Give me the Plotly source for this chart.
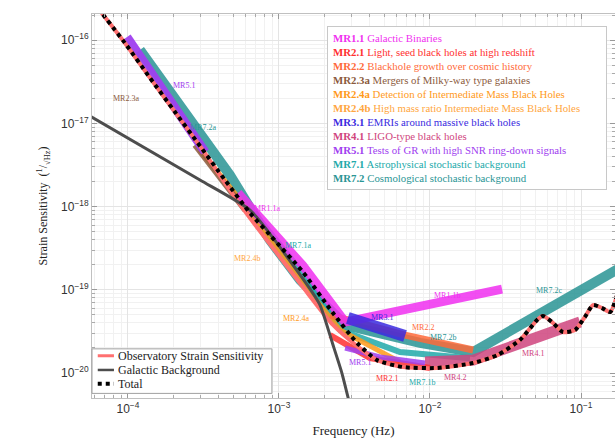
import numpy as np
import plotly.graph_objects as go

# ---------------- data (frequency in Hz, strain in 1/sqrt(Hz)) ----------------
total_f = [6.32e-5, 9.55e-5, 1.40e-4, 2.05e-4, 3.00e-4, 4.39e-4, 6.43e-4, 8.71e-4, 1.44e-3,
           2.28e-3, 3.29e-3, 4.46e-3, 6.62e-3, 1.11e-2, 1.93e-2, 2.78e-2, 3.94e-2, 5.12e-2,
           5.60e-2, 6.43e-2, 7.60e-2, 9.12e-2, 0.106, 0.120, 0.138, 0.156, 0.181]
total_h = [2.44e-16, 9.25e-17, 3.52e-17, 1.37e-17, 5.35e-18, 2.09e-18, 8.38e-19, 4.56e-19, 1.64e-19,
           5.26e-20, 2.30e-20, 1.43e-20, 1.18e-20, 1.15e-20, 1.32e-20, 1.64e-20, 2.49e-20, 4.34e-20,
           4.84e-20, 4.10e-20, 3.11e-20, 3.29e-20, 4.71e-20, 6.56e-20, 6.04e-20, 5.41e-20, 1.14e-19]

obs_f = [6.32e-5, 9.55e-5, 1.40e-4, 2.05e-4, 3.00e-4, 4.39e-4, 6.43e-4, 8.71e-4, 1.44e-3,
         2.28e-3, 3.29e-3, 4.46e-3, 6.62e-3, 1.11e-2, 1.93e-2, 2.78e-2, 3.94e-2, 5.12e-2,
         5.60e-2, 6.43e-2, 7.60e-2, 9.12e-2, 0.106, 0.120, 0.138, 0.156, 0.181]
obs_h = [2.44e-16, 9.25e-17, 3.52e-17, 1.37e-17, 5.35e-18, 1.92e-18, 7.29e-19, 3.55e-19, 1.08e-19,
         3.78e-20, 2.11e-20, 1.43e-20, 1.18e-20, 1.15e-20, 1.32e-20, 1.64e-20, 2.49e-20, 4.34e-20,
         4.84e-20, 4.10e-20, 3.11e-20, 3.29e-20, 4.71e-20, 6.56e-20, 6.04e-20, 5.41e-20, 1.14e-19]

galactic_f = [5.60e-5, 3.00e-4, 6.43e-4, 1.38e-3, 1.87e-3, 2.28e-3, 2.61e-3, 2.95e-3]
galactic_h = [1.23e-17, 2.09e-18, 9.10e-19, 1.51e-19, 6.56e-20, 2.17e-20, 1.00e-20, 4.12e-21]

# mission-requirement bands
mr72_f = [1.20e-4, 4.73e-4, 8.71e-4, 1.38e-3, 2.74e-3, 8.59e-3, 1.93e-2, 0.181]
mr72_h = [7.62e-17, 2.40e-18, 3.97e-19, 1.31e-19, 3.78e-20, 2.30e-20, 1.79e-20, 1.83e-19]

mr71_f = [7.48e-4, 1.38e-3, 2.54e-3, 6.33e-3, 1.84e-2]
mr71_h = [6.90e-19, 1.73e-19, 3.29e-20, 1.79e-20, 1.51e-20]

mr24_f = [3.00e-4, 6.43e-4, 1.38e-3, 2.54e-3, 6.33e-3]
mr24_h = [4.79e-18, 8.61e-19, 1.31e-19, 3.29e-20, 1.36e-20]

mr23_f = [2.78e-4, 5.96e-4]
mr23_h = [5.50e-18, 9.10e-19]

mr22_f = [2.18e-3, 6.83e-3, 1.93e-2]
mr22_h = [4.98e-20, 2.86e-20, 1.89e-20]

mr11_f = [5.35e-4, 1.44e-3, 2.74e-3, 3.00e-2]
mr11_h = [1.46e-18, 1.95e-19, 4.10e-20, 1.02e-19]

mr31_f = [2.86e-3, 6.83e-3]
mr31_h = [4.58e-20, 2.79e-20]

mr41_f = [9.27e-3, 1.93e-2, 9.85e-2]
mr41_h = [1.36e-20, 1.43e-20, 4.10e-20]

mr21_f = [2.18e-3, 4.01e-3, 1.00e-2]
mr21_h = [2.86e-20, 1.51e-20, 1.15e-20]

mr51a_f = [9.84e-5, 1.79e-4, 3.24e-4]
mr51a_h = [1.09e-16, 2.19e-17, 4.53e-18]
mr51b_f = [2.74e-3, 4.67e-3, 9.27e-3]
mr51b_h = [2.00e-20, 1.56e-20, 1.32e-20]

# band labels: text, log10 f, log10 h
band_labels = [
    ("MR5.1", -3.629, -16.539), ("MR2.3a", -4.013, -16.695), ("MR7.2a", -3.503, -17.043),
    ("MR1.1a", -3.080, -18.017), ("MR7.1a", -2.874, -18.462), ("MR2.4b", -3.212, -18.618),
    ("MR2.4a", -2.887, -19.339), ("MR3.1", -2.318, -19.327), ("MR2.2", -2.046, -19.447),
    ("MR7.2b", -1.914, -19.567), ("MR1.1b", -1.887, -19.063), ("MR7.2c", -1.212, -19.002),
    ("MR4.1", -1.318, -19.760), ("MR4.2", -1.834, -20.048), ("MR7.1b", -2.053, -20.108),
    ("MR2.1", -2.285, -20.060), ("MR5.1", -2.464, -19.868),
]

legend_items = [
    ("MR1.1", "Galactic Binaries"),
    ("MR2.1", "Light, seed black holes at high redshift"),
    ("MR2.2", "Blackhole growth over cosmic history"),
    ("MR2.3a", "Mergers of Milky-way type galaxies"),
    ("MR2.4a", "Detection of Intermediate Mass Black Holes"),
    ("MR2.4b", "High mass ratio Intermediate Mass Black Holes"),
    ("MR3.1", "EMRIs around massive black holes"),
    ("MR4.1", "LIGO-type black holes"),
    ("MR5.1", "Tests of GR with high SNR ring-down signals"),
    ("MR7.1", "Astrophysical stochastic background"),
    ("MR7.2", "Cosmological stochastic background"),
]

main_names = ["Observatory Strain Sensitivity", "Galactic Background", "Total"]

colors = {
    "MR1.1": "#F030F0", "MR2.1": "#FF3030", "MR2.2": "#FF6A3A", "MR2.3a": "#8B5A3C",
    "MR2.4a": "#FF9A1A", "MR2.4b": "#FFA640", "MR3.1": "#3A2BE0", "MR4.1": "#D0457E",
    "MR4.2": "#D0457E", "MR5.1": "#A040F0", "MR7.1": "#22AAAA", "MR7.2": "#2A9595",
}
OBS_C, GAL_C, TOT_C = "#FF7070", "#4D4D4D", "black"

def label_color(t):
    if t in colors:
        return colors[t]
    return colors[t[:5]]

SERIF = "Liberation Serif, DejaVu Serif, serif"

fig = go.Figure()

def band(f, h, color, width, opacity=0.85):
    fig.add_trace(go.Scatter(x=f, y=h, mode="lines", showlegend=False, opacity=opacity,
                             line=dict(color=color, width=width), hoverinfo="skip"))

band(mr72_f, mr72_h, colors["MR7.2"], 10)
band(mr71_f, mr71_h, colors["MR7.1"], 6)
band(mr24_f, mr24_h, colors["MR2.4a"], 5)
band(mr23_f, mr23_h, colors["MR2.3a"], 6)
band(mr41_f, mr41_h, colors["MR4.1"], 11)
band(mr22_f, mr22_h, colors["MR2.2"], 7)
band(mr11_f, mr11_h, colors["MR1.1"], 9)
band(mr31_f, mr31_h, colors["MR3.1"], 12)
band(mr21_f, mr21_h, colors["MR2.1"], 6)
band(mr51a_f, mr51a_h, colors["MR5.1"], 9, 0.95)
band(mr51b_f, mr51b_h, colors["MR5.1"], 5)

fig.add_trace(go.Scatter(x=obs_f, y=obs_h, mode="lines", name=main_names[0], showlegend=False,
                         line=dict(color=OBS_C, width=4, shape="spline", smoothing=0.6)))
fig.add_trace(go.Scatter(x=galactic_f, y=galactic_h, mode="lines", name=main_names[1], showlegend=False,
                         line=dict(color=GAL_C, width=3, shape="spline", smoothing=0.5)))
fig.add_trace(go.Scatter(x=total_f, y=total_h, mode="lines", name=main_names[2], showlegend=False,
                         line=dict(color=TOT_C, width=4, dash="dot", shape="spline", smoothing=0.6)))

annotations = []
for t, lx, ly in band_labels:
    annotations.append(dict(x=lx, y=ly, xref="x", yref="y", text=t, showarrow=False,
                            font=dict(family=SERIF, size=8, color=label_color(t))))

lines = []
for k, desc in legend_items:
    c = colors[k]
    lines.append(f"<span style='color:{c}'><b>{k}</b> {desc}</span>")
annotations.append(dict(x=0.449, y=0.968, xref="paper", yref="paper", xanchor="left", yanchor="top",
                        text="<br>".join(lines), showarrow=False, align="left", width=268,
                        bgcolor="white", bordercolor="#c8c8c8", borderwidth=1, borderpad=5,
                        font=dict(family=SERIF, size=10.8)))

# custom compact legend (bottom-left) for the three main curves
shapes = [dict(type="rect", xref="paper", yref="paper", x0=0.0, x1=0.344, y0=0.012, y1=0.128,
               line=dict(color="#a0a0a0", width=1), fillcolor="white", layer="above")]
rows_y = [0.110, 0.073, 0.037]
styles = [dict(color=OBS_C, width=3), dict(color=GAL_C, width=2.5), dict(color=TOT_C, width=4, dash="dot")]
for name, ry, st in zip(main_names, rows_y, styles):
    shapes.append(dict(type="line", xref="paper", yref="paper", x0=0.011, x1=0.042, y0=ry, y1=ry,
                       line=st, layer="above"))
    annotations.append(dict(x=0.045, y=ry, xref="paper", yref="paper", xanchor="left", yanchor="middle",
                            text=name, showarrow=False, font=dict(family=SERIF, size=12, color="#222")))

xticks = [1e-4, 1e-3, 1e-2, 1e-1]
xtext = ["10<sup>−4</sup>", "10<sup>−3</sup>", "10<sup>−2</sup>", "10<sup>−1</sup>"]
yticks = [1e-20, 1e-19, 1e-18, 1e-17, 1e-16]
ytext = ["10<sup>−20</sup>", "10<sup>−19</sup>", "10<sup>−18</sup>", "10<sup>−17</sup>", "10<sup>−16</sup>"]

axis_common = dict(type="log", showgrid=True, gridcolor="#e4e4e4", gridwidth=1,
                   showline=True, linecolor="#c0c0c0", mirror="ticks", ticks="inside", ticklen=5,
                   tickcolor="#999", zeroline=False,
                   tickfont=dict(family="Liberation Sans, Arial, sans-serif", size=12, color="#333"),
                   minor=dict(ticks="inside", ticklen=3, tickcolor="#aaa", showgrid=True,
                              gridcolor="#f1f1f1", dtick="D1"))

fig.update_layout(
    width=615, height=439,
    margin=dict(l=92, r=0, t=14, b=41),
    paper_bgcolor="white", plot_bgcolor="white",
    annotations=annotations,
    shapes=shapes,
    xaxis=dict(range=[-4.238, -0.775], tickvals=xticks, ticktext=xtext,
               title=dict(text="Frequency (Hz)", font=dict(family=SERIF, size=13, color="#222"),
                          standoff=10), **axis_common),
    yaxis=dict(range=[-20.30, -15.685], tickvals=yticks, ticktext=ytext,
               title=dict(text="Strain Sensitivity  (<sup>1</sup>/<sub>√Hz</sub>)",
                          font=dict(family=SERIF, size=12, color="#222"), standoff=10), **axis_common),
    showlegend=False,
)

fig.write_html("out.html")
